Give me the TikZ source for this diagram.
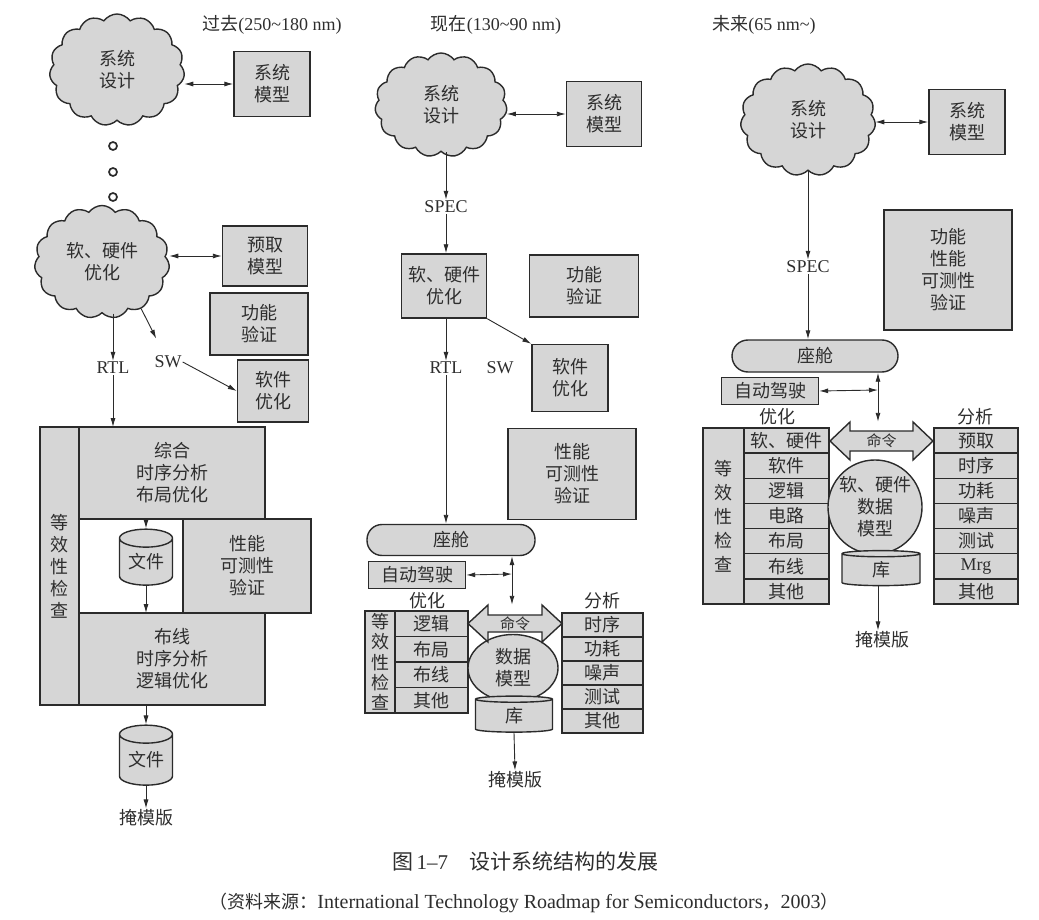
\documentclass[tikz,border=0pt]{standalone}
\usepackage{fontspec}
\setmainfont{Liberation Serif}
\newfontfamily\cjk{Noto Sans CJK SC}
\usepackage{tikz}
\usetikzlibrary{positioning,arrows.meta,shapes.geometric,shapes.symbols}
\definecolor{chipfill}{HTML}{D6D6D6}
\definecolor{chipline}{HTML}{2B2B2B}
\definecolor{chiptext}{HTML}{2E2E2E}
\newcommand{\zhfont}{\cjk\fontsize{18}{22}\selectfont}
\newcommand{\enfont}{\rmfamily\fontsize{18}{20}\selectfont}

\begin{document}
\begin{tikzpicture}[x=1pt,y=-1pt,
  every node/.style={text=chiptext},
  blk/.style={draw=chipline,fill=chipfill,line width=1.4pt,align=center,font=\zhfont,inner sep=0pt},
  cloudy/.style={blk,cloud,cloud puffs=15,cloud puff arc=110,cloud ignores aspect},
  cell/.style={blk,outer sep=0pt},
  can/.style={blk,cylinder,shape border rotate=90},
  cmdarrow/.style={draw=chipline,fill=chipfill,line width=1.4pt,line join=miter},
  cmdtext/.style={font=\cjk\fontsize{15}{17}\selectfont,inner sep=0pt},
  era/.style={font=\cjk\fontsize{18}{21}\selectfont,inner sep=1pt},
  lab/.style={font=\enfont,inner sep=1pt},
  zlab/.style={font=\zhfont,inner sep=1pt},
  bead/.style={circle,draw=chipline,fill=white,line width=1.7pt,minimum size=8pt,inner sep=0pt},
  pipe/.style={-{Latex[length=9pt,width=5pt]},chipline,line width=0.9pt},
  twoway/.style={{Latex[length=9pt,width=5pt]}-{Latex[length=9pt,width=5pt]},chipline,line width=0.9pt}
]
\path[fill=white,use as bounding box] (0,0) rectangle (1039,920);

\node[era] (t1) at (272,25) {过去{\rmfamily(250\textasciitilde180 nm)}};
\node[cloudy,minimum width=135pt,minimum height=112pt] (sd1) at (117,70) {系统\\设计};
\node[blk,minimum width=76pt,minimum height=65pt] (sm1) at (272,84) {系统\\模型};
\draw[twoway] (sm1.west -| sd1.east) -- (sm1.west);
\node[bead] (b1) at (113,146) {};
\node[bead] (b2) at (113,172) {};
\node[bead] (b3) at (113,197) {};
\node[cloudy,minimum width=135pt,minimum height=113pt] (hw1) at (102,262) {软、硬件\\优化};
\node[blk,minimum width=85pt,minimum height=60pt] (pf1) at (265,256) {预取\\模型};
\draw[twoway] (pf1.west -| hw1.east) -- (pf1.west);
\node[blk,minimum width=98pt,minimum height=62pt] (fv1) at (259,324) {功能\\验证};
\node[blk,minimum width=71pt,minimum height=62pt] (so1) at (273,391) {软件\\优化};
\node[lab] (rtl1) at (113,368) {RTL};
\node[lab] (sw1) at (168,362) {SW};
\draw[pipe] (rtl1.north |- hw1.south) -- (rtl1.north);
\draw[pipe,shorten >=18pt] (hw1.-50) -- (sw1);
\draw[pipe] (sw1.east) -- (so1.west);
\node[cell,minimum width=39pt,minimum height=278pt] (eq1) at (59.5,566) {等\\效\\性\\检\\查};
\node[cell,minimum width=186pt,minimum height=92pt,anchor=north west] (syn1) at (eq1.north east) {综合\\时序分析\\布局优化};
\node[cell,minimum width=186pt,minimum height=92pt,anchor=south west] (rt1) at (eq1.south east) {布线\\时序分析\\逻辑优化};
\node[cell,minimum width=128pt,minimum height=94pt] (pt1) at (247,566) {性能\\可测性\\验证};
\draw[pipe] (rtl1.south) -- (rtl1.south |- syn1.north);
\node[can,minimum width=53pt,minimum height=56pt,aspect=0.5] (f1) at (146,562) {文件};
\draw[pipe] (f1.top |- syn1.south) -- (f1.top);
\draw[pipe] (f1.bottom) -- (f1.bottom |- rt1.north);
\node[can,minimum width=53pt,minimum height=60pt,aspect=0.5] (f2) at (146,760) {文件};
\draw[pipe] (f2.top |- rt1.south) -- (f2.top);
\node[zlab] (mk1) at (146,818) {掩模版};
\draw[pipe] (f2.bottom) -- (mk1.north);

\node[era] (t2) at (496,25) {现在{\rmfamily(130\textasciitilde90 nm)}};
\node[cloudy,minimum width=132pt,minimum height=104pt] (sd2) at (441,105) {系统\\设计};
\node[blk,minimum width=75pt,minimum height=65pt] (sm2) at (604,114) {系统\\模型};
\draw[twoway] (sm2.west -| sd2.east) -- (sm2.west);
\node[lab] (spec2) at (446,207) {SPEC};
\draw[pipe] (spec2.north |- sd2.south) -- (spec2.north);
\node[blk,minimum width=85pt,minimum height=64pt] (hw2) at (444,286) {软、硬件\\优化};
\draw[pipe] (spec2.south) -- (spec2.south |- hw2.north);
\node[blk,minimum width=109pt,minimum height=62pt] (fv2) at (584,286) {功能\\验证};
\node[blk,minimum width=76pt,minimum height=67pt] (so2) at (570,378) {软件\\优化};
\draw[pipe] (hw2.south east) -- (so2.north west);
\node[lab] (rtl2) at (446,368) {RTL};
\node[lab] (sw2) at (500,368) {SW};
\draw[pipe] (rtl2.north |- hw2.south) -- (rtl2.north);
\node[blk,minimum width=128pt,minimum height=91pt] (pt2) at (572,474) {性能\\可测性\\验证};
\node[blk,rounded corners=15pt,minimum width=168pt,minimum height=31pt] (ck2) at (451,540) {座舱};
\draw[pipe] (rtl2.south) -- (rtl2.south |- ck2.north);
\node[blk,minimum width=97pt,minimum height=27pt] (ap2) at (417,575) {自动驾驶};
\coordinate (j2) at (512,574);
\node[zlab] (op2) at (427,601) {优化};
\node[zlab] (an2) at (602,601) {分析};
\node[cell,minimum width=30pt,minimum height=102pt,font=\cjk\fontsize{18}{20.4}\selectfont] (eq2) at (380,662) {等\\效\\性\\检\\查};
\node[cell,minimum width=73pt,minimum height=25.5pt,anchor=north west] (l2a) at (eq2.north east) {逻辑};
\node[cell,minimum width=73pt,minimum height=25.5pt,below=0pt of l2a] (l2b) {布局};
\node[cell,minimum width=73pt,minimum height=25.5pt,below=0pt of l2b] (l2c) {布线};
\node[cell,minimum width=73pt,minimum height=25.5pt,below=0pt of l2c] (l2d) {其他};
\node[cell,minimum width=81pt,minimum height=24pt,anchor=north] (r2a) at (602.5,613) {时序};
\node[cell,minimum width=81pt,minimum height=24pt,below=0pt of r2a] (r2b) {功耗};
\node[cell,minimum width=81pt,minimum height=24pt,below=0pt of r2b] (r2c) {噪声};
\node[cell,minimum width=81pt,minimum height=24pt,below=0pt of r2c] (r2d) {测试};
\node[cell,minimum width=81pt,minimum height=24pt,below=0pt of r2d] (r2e) {其他};
\node[blk,ellipse,minimum width=90pt,minimum height=67pt] (dm2) at (513,668) {数据\\模型};
\coordinate (c2) at (515,623.5);
\filldraw[cmdarrow] ([xshift=-47pt]c2) -- ++(20,-18.5) -- ++(0,10) -- ++(54,0) -- ++(0,-10) -- ++(20,18.5)
  -- ++(-20,18.5) -- ++(0,-10) -- ++(-54,0) -- ++(0,10) -- cycle;
\node[cmdtext,minimum width=94pt,minimum height=37pt] (cm2) at (c2) {命令};
\node[can,minimum width=77pt,minimum height=36pt,aspect=0.34] (lb2) at (514,716) {库};
\draw[twoway] (ap2.east) -- (j2);
\draw[twoway] (j2 |- ck2.south) -- (j2 |- cm2.north);
\node[zlab] (mk2) at (515,780) {掩模版};
\draw[pipe] (lb2.bottom) -- (mk2.north);

\node[era] (t3) at (764,25) {未来{\rmfamily(65 nm\textasciitilde)}};
\node[cloudy,minimum width=135pt,minimum height=112pt] (sd3) at (808,120) {系统\\设计};
\node[blk,minimum width=76pt,minimum height=65pt] (sm3) at (967,122) {系统\\模型};
\draw[twoway] (sm3.west -| sd3.east) -- (sm3.west);
\node[lab] (spec3) at (808,267) {SPEC};
\draw[pipe] (spec3.north |- sd3.south) -- (spec3.north);
\node[blk,minimum width=128pt,minimum height=120pt] (fv3) at (948,270) {功能\\性能\\可测性\\验证};
\node[blk,rounded corners=16pt,minimum width=166pt,minimum height=32pt] (ck3) at (815,356) {座舱};
\draw[pipe] (spec3.south) -- (spec3.south |- ck3.north);
\node[blk,minimum width=97pt,minimum height=27pt] (ap3) at (770,391) {自动驾驶};
\coordinate (j3) at (878,390);
\node[zlab] (op3) at (777,417) {优化};
\node[zlab] (an3) at (975,417) {分析};
\node[cell,minimum width=41pt,minimum height=176pt,font=\cjk\fontsize{18}{24}\selectfont] (eq3) at (723.5,516) {等\\效\\性\\检\\查};
\node[cell,minimum width=85pt,minimum height=25.14pt,anchor=north west] (l3a) at (eq3.north east) {软、硬件};
\node[cell,minimum width=85pt,minimum height=25.14pt,below=0pt of l3a] (l3b) {软件};
\node[cell,minimum width=85pt,minimum height=25.14pt,below=0pt of l3b] (l3c) {逻辑};
\node[cell,minimum width=85pt,minimum height=25.14pt,below=0pt of l3c] (l3d) {电路};
\node[cell,minimum width=85pt,minimum height=25.14pt,below=0pt of l3d] (l3e) {布局};
\node[cell,minimum width=85pt,minimum height=25.14pt,below=0pt of l3e] (l3f) {布线};
\node[cell,minimum width=85pt,minimum height=25.14pt,below=0pt of l3f] (l3g) {其他};
\node[cell,minimum width=84pt,minimum height=25.14pt,anchor=north] (r3a) at (976,428) {预取};
\node[cell,minimum width=84pt,minimum height=25.14pt,below=0pt of r3a] (r3b) {时序};
\node[cell,minimum width=84pt,minimum height=25.14pt,below=0pt of r3b] (r3c) {功耗};
\node[cell,minimum width=84pt,minimum height=25.14pt,below=0pt of r3c] (r3d) {噪声};
\node[cell,minimum width=84pt,minimum height=25.14pt,below=0pt of r3d] (r3e) {测试};
\node[cell,minimum width=84pt,minimum height=25.14pt,below=0pt of r3e,font=\enfont] (r3f) {Mrg};
\node[cell,minimum width=84pt,minimum height=25.14pt,below=0pt of r3f] (r3g) {其他};
\node[blk,circle,minimum size=94pt] (dm3) at (875,507) {软、硬件\\数据\\模型};
\coordinate (c3) at (881.5,441);
\filldraw[cmdarrow] ([xshift=-51.5pt]c3) -- ++(20,-19) -- ++(0,9) -- ++(63,0) -- ++(0,-9) -- ++(20,19)
  -- ++(-20,19) -- ++(0,-9) -- ++(-63,0) -- ++(0,9) -- cycle;
\node[cmdtext,minimum width=103pt,minimum height=38pt] (cm3) at (c3) {命令};
\node[can,minimum width=78pt,minimum height=35pt,aspect=0.34] (lb3) at (881,570) {库};
\draw[twoway] (ap3.east) -- (j3);
\draw[twoway] (j3 |- ck3.south) -- (j3 |- cm3.north);
\node[zlab] (mk3) at (882,640) {掩模版};
\draw[pipe] (lb3.bottom -| j3) -- (mk3.north -| j3);

\node[font=\cjk\fontsize{21}{24}\selectfont] (cap) at (525,862) {图\,{\rmfamily 1–7}\quad 设计系统结构的发展};
\node[font=\cjk\fontsize{18}{21}\selectfont] (src) at (524,903) {（资料来源：{\rmfamily\fontsize{20}{21}\selectfont International Technology Roadmap for Semiconductors}，{\rmfamily\fontsize{20}{21}\selectfont 2003}）};
\end{tikzpicture}
\end{document}
